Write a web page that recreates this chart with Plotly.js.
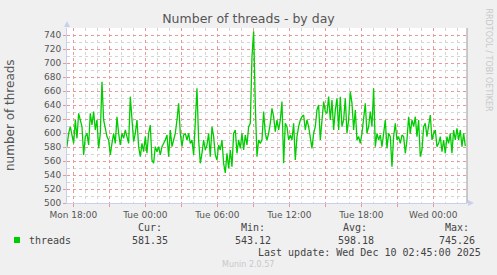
<!DOCTYPE html>
<html>
<head>
<meta charset="utf-8">
<script src="https://cdn.plot.ly/plotly-3.0.1.min.js"></script>
<style>html,body{margin:0;padding:0;background:#f0f0f0;}#chart{width:497px;height:275px;}</style>
</head>
<body>
<div id="chart"></div>
<script>
// Series: number of threads, one sample every 500 s starting Mon 2025-12-08 17:28:20
var seriesName = "threads";
var startTime = "2025-12-08T17:28:20Z";
var stepSeconds = 500;
var threads = [
580.5,599.5,609.0,594.8,585.2,618.6,592.4,628.1,618.6,609.0,
568.6,594.8,599.5,582.9,628.1,611.4,630.5,604.3,618.6,578.1,
599.5,673.3,618.6,604.3,594.8,590.0,568.6,585.2,599.5,585.2,
623.3,599.5,582.9,599.5,592.4,604.3,592.4,585.2,651.9,618.6,
587.6,599.5,618.6,580.5,566.2,585.2,573.3,594.8,571.0,599.5,
611.4,561.4,556.7,580.5,573.3,580.5,568.6,580.5,585.2,590.0,
597.1,566.2,604.3,580.5,590.0,599.5,618.6,642.4,599.5,580.5,
597.1,599.5,590.0,599.5,585.2,590.0,568.6,609.0,663.8,590.0,
556.7,571.0,590.0,575.7,582.9,599.5,566.2,609.0,594.8,568.6,
561.4,582.9,575.7,590.0,556.7,543.1,571.0,549.5,575.7,551.9,
599.5,604.3,571.0,590.0,578.1,599.5,575.7,597.1,582.9,609.0,
613.8,709.0,745.3,640.0,566.2,590.0,585.2,
590.0,630.5,599.5,590.0,599.5,613.8,635.2,623.3,601.9,618.6,
604.3,618.6,644.8,556.7,613.8,609.0,590.0,597.1,590.0,613.8,
561.4,594.8,609.0,618.6,623.3,625.7,604.3,618.6,609.0,592.4,
578.1,599.5,609.0,632.9,640.0,590.0,618.6,644.8,630.5,628.1,
651.9,618.6,647.1,604.3,632.9,649.5,604.3,651.9,609.0,618.6,
649.5,599.5,618.6,659.0,642.4,604.3,632.9,590.0,594.8,585.2,
599.5,618.6,642.4,599.5,609.0,630.5,609.0,663.8,580.5,599.5,
590.0,597.1,580.5,599.5,618.6,578.1,599.5,594.8,551.9,594.8,
613.8,590.0,594.8,585.2,597.1,594.8,571.0,590.0,623.3,599.5,
618.6,609.0,623.3,594.8,618.6,566.2,575.7,609.0,613.8,594.8,
609.0,625.7,590.0,599.5,604.3,580.5,585.2,594.8,573.3,590.0,
571.0,594.8,585.2,599.5,571.0,604.3,590.0,606.7,590.0,604.3,
580.5,599.5,581.35
];
var yTicks = [500,520,540,560,580,600,620,640,660,680,700,720,740];
var yMinorTicks = [510,530,550,570,590,610,630,650,670,690,710,730,750];
var xTickVals = ["2025-12-08 18:00","2025-12-08 21:00","2025-12-09 00:00","2025-12-09 03:00","2025-12-09 06:00","2025-12-09 09:00","2025-12-09 12:00","2025-12-09 15:00","2025-12-09 18:00","2025-12-09 21:00","2025-12-10 00:00"];
var xTickText = ["Mon 18:00","","Tue 00:00","","Tue 06:00","","Tue 12:00","","Tue 18:00","","Wed 00:00"];
var xRange = ["2025-12-08 17:28:30","2025-12-10 02:48:30"];
var statLabels = ["Cur:","Min:","Avg:","Max:"];
var statValues = ["581.35","543.12","598.18","745.26"];
var lastUpdate = "Last update: Wed Dec 10 02:45:00 2025";

var t0 = Date.parse(startTime);
var times = threads.map(function(_, i){
  var d = new Date(t0 + i*stepSeconds*1000);
  return d.toISOString().replace('T',' ').replace('Z','');
});
// hourly minor grid positions that are not on the 3-hour major grid
var xMinorTicks = [];
(function(){
  var s = Date.parse("2025-12-08T18:00:00Z"), e = Date.parse("2025-12-10T03:00:00Z");
  for (var t = s, k = 0; t <= e; t += 3600000, k++) {
    if (k % 3 !== 0) xMinorTicks.push(new Date(t).toISOString().replace('T',' ').replace('Z',''));
  }
})();

var W=497,H=275,L=67,R=467,T=28,B=203;
function px(x){return (x-L)/(R-L);}
function py(y){return (B-y)/(B-T);}

var mono = {family:"DejaVu Sans Mono", size:10, color:"#444"};
var ann = [];
ann.push({xref:'paper',yref:'paper',x:px(10),y:py(115),text:"number of threads",textangle:-90,showarrow:false,font:{family:"DejaVu Sans",size:12,color:"#555"},xanchor:'center',yanchor:'middle'});
ann.push({xref:'paper',yref:'paper',x:px(27),y:py(240),text:seriesName,showarrow:false,font:mono,xanchor:'left',yanchor:'middle'});
var hdrRight=[163.5,267,368.5,471];
var valRight=[170,273,375.5,477];
for(var i=0;i<4;i++){
  ann.push({xref:'paper',yref:'paper',x:px(hdrRight[i]),y:py(227.5),text:statLabels[i],showarrow:false,font:mono,xanchor:'right',yanchor:'middle'});
  ann.push({xref:'paper',yref:'paper',x:px(valRight[i]),y:py(240),text:statValues[i],showarrow:false,font:mono,xanchor:'right',yanchor:'middle'});
}
ann.push({xref:'paper',yref:'paper',x:px(483),y:py(252),text:lastUpdate,showarrow:false,font:mono,xanchor:'right',yanchor:'middle'});
ann.push({xref:'paper',yref:'paper',x:px(248),y:py(264),text:"Munin 2.0.57",showarrow:false,font:{family:"DejaVu Sans",size:8,color:"#c8c8c8"},xanchor:'center',yanchor:'middle'});
ann.push({xref:'paper',yref:'paper',x:px(488),y:py(6),text:"RRDTOOL / TOBI OETIKER",textangle:90,showarrow:false,font:{family:"DejaVu Sans",size:8,color:"#c8c8c8"},xanchor:'center',yanchor:'top'});

var shapes = [
  {type:'rect',xref:'paper',yref:'paper',x0:px(14),x1:px(20),y0:py(243),y1:py(237),fillcolor:'#00cc00',line:{width:0}},
  {type:'line',xref:'paper',yref:'paper',x0:1,x1:1,y0:0,y1:1,line:{color:'#999',width:1}},
  {type:'path',xref:'paper',yref:'paper',path:'M '+px(64)+' '+py(27)+' L '+px(70)+' '+py(27)+' L '+px(67)+' '+py(21)+' Z',fillcolor:'#c8d0f0',line:{width:0}},
  {type:'path',xref:'paper',yref:'paper',path:'M '+px(468)+' '+py(200)+' L '+px(468)+' '+py(206)+' L '+px(474)+' '+py(203)+' Z',fillcolor:'#c8d0f0',line:{width:0}}
];

var data = [{
  x: times, y: threads, type:'scatter', mode:'lines', name: seriesName,
  line:{color:'#00cc00', width:1.3}, hoverinfo:'skip'
}];

var layout = {
  width:W, height:H,
  margin:{l:L, r:W-R, t:T, b:H-B, pad:0},
  paper_bgcolor:'#f0f0f0', plot_bgcolor:'#ffffff',
  showlegend:false,
  title:{text:"Number of threads - by day", font:{family:"DejaVu Sans",size:12.5,color:"#555"}, x:0.5, xref:'container', xanchor:'center', y:1-19/H, yref:'container', yanchor:'middle'},
  xaxis:{type:'date', range:xRange, tickmode:'array', tickvals:xTickVals, ticktext:xTickText,
    showgrid:true, gridcolor:'#e89a9a', griddash:'dot', gridwidth:1,
    ticks:'outside', ticklen:3, tickcolor:'#e89a9a',
    minor:{tickmode:'array', tickvals:xMinorTicks, showgrid:true, gridcolor:'#d4d4d4', griddash:'dot', gridwidth:1, ticks:''},
    showline:true, linecolor:'#c8d0f0', linewidth:1, zeroline:false,
    tickfont:{family:"DejaVu Sans", size:9, color:"#555"}, fixedrange:true},
  yaxis:{range:[500,750], tickmode:'array', tickvals:yTicks,
    showgrid:true, gridcolor:'#e89a9a', griddash:'dot', gridwidth:1,
    ticks:'outside', ticklen:3, tickcolor:'#e89a9a',
    minor:{tickmode:'array', tickvals:yMinorTicks, showgrid:true, gridcolor:'#d4d4d4', griddash:'dot', gridwidth:1, ticks:''},
    showline:true, linecolor:'#c8d0f0', linewidth:1, zeroline:false,
    tickfont:{family:"DejaVu Sans", size:9, color:"#555"}, fixedrange:true},
  annotations: ann,
  shapes: shapes
};
Plotly.newPlot('chart', data, layout, {displayModeBar:false, staticPlot:true});
</script>
</body>
</html>
